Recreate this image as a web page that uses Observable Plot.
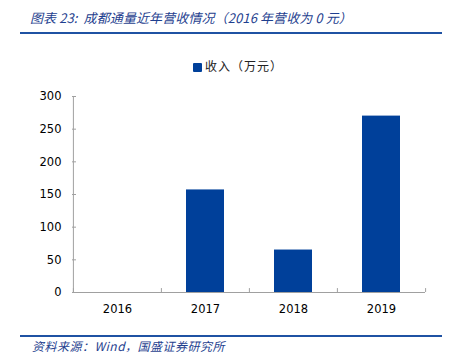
<!DOCTYPE html>
<html><head><meta charset="utf-8">
<script src="https://cdn.jsdelivr.net/npm/d3@7"></script>
<script src="https://cdn.jsdelivr.net/npm/@observablehq/plot@0.6"></script>
<style>
body{margin:0;background:#fff;width:456px;height:355px;position:relative;overflow:hidden;font-family:"Noto Sans CJK SC",sans-serif;}
#title{position:absolute;left:30px;top:8px;font-size:13px;font-style:italic;color:#1f3f8f;white-space:nowrap;line-height:20px;letter-spacing:0.1px;}
.hr{position:absolute;left:20px;width:422px;height:2px;background:#1f52a3;}
#legend{position:absolute;left:193px;top:57px;font-size:12px;color:#222;white-space:nowrap;line-height:18px;letter-spacing:1px;}
#legend span.sw{display:inline-block;width:9px;height:9px;background:#00409a;margin-right:3px;vertical-align:-1px;border-radius:1px;}
#chart{position:absolute;left:0;top:0;}
#source{position:absolute;left:32px;top:337px;font-size:12px;font-style:italic;color:#1f3f8f;white-space:nowrap;line-height:17px;letter-spacing:0.5px;}
</style></head>
<body>
<div id="title">图表 23:&nbsp; 成都通量近年营收情况（2016 年营收为 0 元）</div>
<div class="hr" style="top:32px"></div>
<div id="chart"></div>
<div id="legend"><span class="sw"></span>收入（万元）</div>
<div class="hr" style="top:335px"></div>
<div id="source">资料来源：Wind，国盛证券研究所</div>
<script>
const years = ["2016", "2017", "2018", "2019"];
const revenue = [0, 157, 65, 270];
const yTicks = [0, 50, 100, 150, 200, 250, 300];

const data = years.map((y, i) => ({year: y, value: revenue[i]}));
const axisGrey = "#a0a0a0";

const chart = Plot.plot({
  width: 456,
  height: 355,
  marginLeft: 72,
  marginRight: 31,
  marginTop: 96,
  marginBottom: 63,
  style: {fontFamily: "DejaVu Sans, sans-serif", fontSize: "11.5px", color: "#000", background: "transparent"},
  x: {domain: years, paddingInner: 0.57, paddingOuter: 0.285, label: null},
  y: {domain: [0, 300], label: null},
  marks: [
    Plot.rectY(data, {x: "year", y: "value", fill: "#00409a"}),
    Plot.ruleX(years, {x: d => d, y1: 0, y2: 6, dx: -44.1, stroke: axisGrey}),
    Plot.ruleX([years[years.length - 1]], {x: d => d, y1: 0, y2: 6, dx: 44.1, stroke: axisGrey}),
    Plot.ruleX([years[0]], {x: d => d, y1: 0, y2: 300, dx: -44.1, stroke: axisGrey}),
    Plot.ruleY([0], {stroke: axisGrey}),
    Plot.axisY({ticks: yTicks, tickSize: -4, tickPadding: 15, stroke: axisGrey, fill: "#000", tickFormat: d => String(d)}),
    Plot.axisX({tickSize: 0, tickPadding: 12, fill: "#000"})
  ]
});
document.getElementById("chart").appendChild(chart);
</script>
</body></html>
